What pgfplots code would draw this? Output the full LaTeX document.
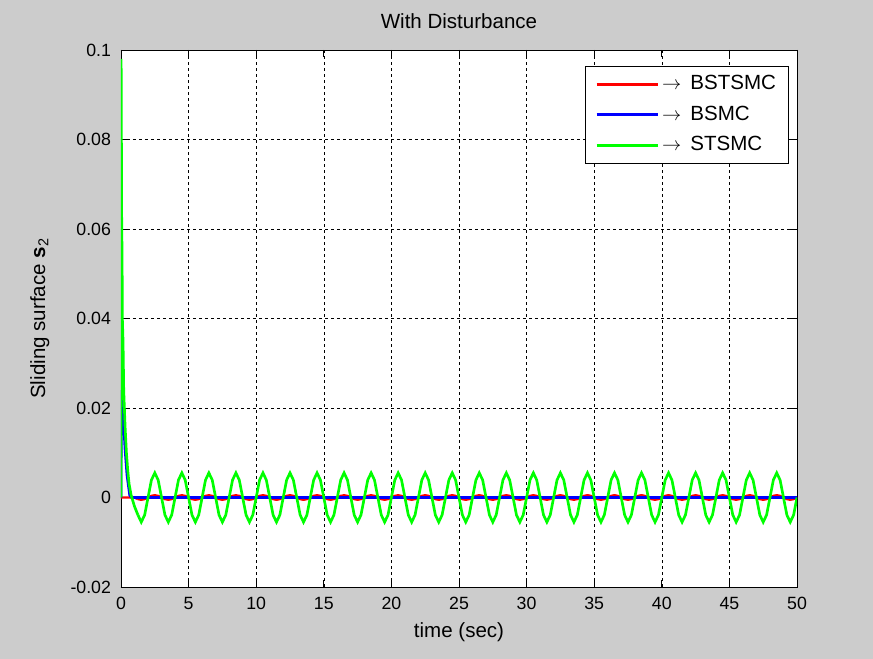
\documentclass[border=0pt]{standalone}
\usepackage{pgfplots}
\pgfplotsset{compat=1.18}
\usepackage{pgfplotstable}
\usepackage{fontspec}
\setmainfont{Liberation Sans}
\definecolor{figbg}{RGB}{204,204,204}
\definecolor{mred}{RGB}{255,0,0}
\definecolor{mblue}{RGB}{0,0,255}
\definecolor{mgreen}{RGB}{0,255,0}
\pgfplotstableread[row sep=\\]{
t r g\\
1.25 -0.00035 -0.0039\\ 1.5 -0.0005 -0.0055\\ 1.75 -0.00035 -0.0039\\
2 0 0\\ 2.25 0.00035 0.0039\\ 2.5 0.0005 0.0055\\ 2.75 0.00035 0.0039\\
3 0 0\\ 3.25 -0.00035 -0.0039\\ 3.5 -0.0005 -0.0055\\ 3.75 -0.00035 -0.0039\\
4 0 0\\ 4.25 0.00035 0.0039\\ 4.5 0.0005 0.0055\\ 4.75 0.00035 0.0039\\
5 0 0\\ 5.25 -0.00035 -0.0039\\ 5.5 -0.0005 -0.0055\\ 5.75 -0.00035 -0.0039\\
6 0 0\\ 6.25 0.00035 0.0039\\ 6.5 0.0005 0.0055\\ 6.75 0.00035 0.0039\\
7 0 0\\ 7.25 -0.00035 -0.0039\\ 7.5 -0.0005 -0.0055\\ 7.75 -0.00035 -0.0039\\
8 0 0\\ 8.25 0.00035 0.0039\\ 8.5 0.0005 0.0055\\ 8.75 0.00035 0.0039\\
9 0 0\\ 9.25 -0.00035 -0.0039\\ 9.5 -0.0005 -0.0055\\ 9.75 -0.00035 -0.0039\\
10 0 0\\ 10.25 0.00035 0.0039\\ 10.5 0.0005 0.0055\\ 10.75 0.00035 0.0039\\
11 0 0\\ 11.25 -0.00035 -0.0039\\ 11.5 -0.0005 -0.0055\\ 11.75 -0.00035 -0.0039\\
12 0 0\\ 12.25 0.00035 0.0039\\ 12.5 0.0005 0.0055\\ 12.75 0.00035 0.0039\\
13 0 0\\ 13.25 -0.00035 -0.0039\\ 13.5 -0.0005 -0.0055\\ 13.75 -0.00035 -0.0039\\
14 0 0\\ 14.25 0.00035 0.0039\\ 14.5 0.0005 0.0055\\ 14.75 0.00035 0.0039\\
15 0 0\\ 15.25 -0.00035 -0.0039\\ 15.5 -0.0005 -0.0055\\ 15.75 -0.00035 -0.0039\\
16 0 0\\ 16.25 0.00035 0.0039\\ 16.5 0.0005 0.0055\\ 16.75 0.00035 0.0039\\
17 0 0\\ 17.25 -0.00035 -0.0039\\ 17.5 -0.0005 -0.0055\\ 17.75 -0.00035 -0.0039\\
18 0 0\\ 18.25 0.00035 0.0039\\ 18.5 0.0005 0.0055\\ 18.75 0.00035 0.0039\\
19 0 0\\ 19.25 -0.00035 -0.0039\\ 19.5 -0.0005 -0.0055\\ 19.75 -0.00035 -0.0039\\
20 0 0\\ 20.25 0.00035 0.0039\\ 20.5 0.0005 0.0055\\ 20.75 0.00035 0.0039\\
21 0 0\\ 21.25 -0.00035 -0.0039\\ 21.5 -0.0005 -0.0055\\ 21.75 -0.00035 -0.0039\\
22 0 0\\ 22.25 0.00035 0.0039\\ 22.5 0.0005 0.0055\\ 22.75 0.00035 0.0039\\
23 0 0\\ 23.25 -0.00035 -0.0039\\ 23.5 -0.0005 -0.0055\\ 23.75 -0.00035 -0.0039\\
24 0 0\\ 24.25 0.00035 0.0039\\ 24.5 0.0005 0.0055\\ 24.75 0.00035 0.0039\\
25 0 0\\ 25.25 -0.00035 -0.0039\\ 25.5 -0.0005 -0.0055\\ 25.75 -0.00035 -0.0039\\
26 0 0\\ 26.25 0.00035 0.0039\\ 26.5 0.0005 0.0055\\ 26.75 0.00035 0.0039\\
27 0 0\\ 27.25 -0.00035 -0.0039\\ 27.5 -0.0005 -0.0055\\ 27.75 -0.00035 -0.0039\\
28 0 0\\ 28.25 0.00035 0.0039\\ 28.5 0.0005 0.0055\\ 28.75 0.00035 0.0039\\
29 0 0\\ 29.25 -0.00035 -0.0039\\ 29.5 -0.0005 -0.0055\\ 29.75 -0.00035 -0.0039\\
30 0 0\\ 30.25 0.00035 0.0039\\ 30.5 0.0005 0.0055\\ 30.75 0.00035 0.0039\\
31 0 0\\ 31.25 -0.00035 -0.0039\\ 31.5 -0.0005 -0.0055\\ 31.75 -0.00035 -0.0039\\
32 0 0\\ 32.25 0.00035 0.0039\\ 32.5 0.0005 0.0055\\ 32.75 0.00035 0.0039\\
33 0 0\\ 33.25 -0.00035 -0.0039\\ 33.5 -0.0005 -0.0055\\ 33.75 -0.00035 -0.0039\\
34 0 0\\ 34.25 0.00035 0.0039\\ 34.5 0.0005 0.0055\\ 34.75 0.00035 0.0039\\
35 0 0\\ 35.25 -0.00035 -0.0039\\ 35.5 -0.0005 -0.0055\\ 35.75 -0.00035 -0.0039\\
36 0 0\\ 36.25 0.00035 0.0039\\ 36.5 0.0005 0.0055\\ 36.75 0.00035 0.0039\\
37 0 0\\ 37.25 -0.00035 -0.0039\\ 37.5 -0.0005 -0.0055\\ 37.75 -0.00035 -0.0039\\
38 0 0\\ 38.25 0.00035 0.0039\\ 38.5 0.0005 0.0055\\ 38.75 0.00035 0.0039\\
39 0 0\\ 39.25 -0.00035 -0.0039\\ 39.5 -0.0005 -0.0055\\ 39.75 -0.00035 -0.0039\\
40 0 0\\ 40.25 0.00035 0.0039\\ 40.5 0.0005 0.0055\\ 40.75 0.00035 0.0039\\
41 0 0\\ 41.25 -0.00035 -0.0039\\ 41.5 -0.0005 -0.0055\\ 41.75 -0.00035 -0.0039\\
42 0 0\\ 42.25 0.00035 0.0039\\ 42.5 0.0005 0.0055\\ 42.75 0.00035 0.0039\\
43 0 0\\ 43.25 -0.00035 -0.0039\\ 43.5 -0.0005 -0.0055\\ 43.75 -0.00035 -0.0039\\
44 0 0\\ 44.25 0.00035 0.0039\\ 44.5 0.0005 0.0055\\ 44.75 0.00035 0.0039\\
45 0 0\\ 45.25 -0.00035 -0.0039\\ 45.5 -0.0005 -0.0055\\ 45.75 -0.00035 -0.0039\\
46 0 0\\ 46.25 0.00035 0.0039\\ 46.5 0.0005 0.0055\\ 46.75 0.00035 0.0039\\
47 0 0\\ 47.25 -0.00035 -0.0039\\ 47.5 -0.0005 -0.0055\\ 47.75 -0.00035 -0.0039\\
48 0 0\\ 48.25 0.00035 0.0039\\ 48.5 0.0005 0.0055\\ 48.75 0.00035 0.0039\\
49 0 0\\ 49.25 -0.00035 -0.0039\\ 49.5 -0.0005 -0.0055\\ 49.75 -0.00035 -0.0039\\
50 0 0\\
}\osc
\begin{document}
\begin{tikzpicture}
\fill[figbg] (-90.75pt,-54pt) rectangle (564pt,440.25pt);
\begin{axis}[
  at={(0pt,0pt)}, anchor=south west,
  scale only axis, width=507pt, height=402.75pt,
  xmin=0, xmax=50, ymin=-0.02, ymax=0.1,
  xtick={0,5,...,50},
  ytick={-0.02,0,0.02,0.04,0.06,0.08,0.1},
  yticklabels={-0.02,0,0.02,0.04,0.06,0.08,0.1},
  /pgf/number format/assume math mode=true,
  ticklabel style={font=\fontsize{13.3}{16}\selectfont},
  xticklabel style={yshift=-4pt},
  yticklabel style={xshift=-4pt},
  major tick length=5pt,
  tick style={black, line width=0.5pt},
  axis line style={black, line width=0.5pt},
  axis background/.style={fill=white},
  grid=major,
  major grid style={black, line width=0.45pt, dash pattern=on 2.5pt off 2pt},
  title={With Disturbance},
  title style={font=\fontsize{15.4}{18}\selectfont, at={(axis description cs:0.5,1)}, anchor=base, inner sep=0pt, yshift=9.8pt},
  xlabel={time (sec)},
  xlabel style={font=\fontsize{15.4}{18}\selectfont, at={(axis description cs:0.5,0)}, anchor=base, inner sep=0pt, yshift=-37.5pt},
  ylabel={Sliding surface \textbf{s}\textsubscript{2}},
  ylabel style={font=\fontsize{15.4}{18}\selectfont, at={(axis description cs:-0.1124,0.5)}, anchor=base, inner sep=0pt},
  legend style={at={(1,1)}, anchor=north east, xshift=-6pt, yshift=-11.8pt,
    font=\fontsize{15.4}{18}\selectfont, draw=black, line width=0.5pt, fill=white,
    inner xsep=7.5pt, inner ysep=4.5pt, row sep=5pt,
    nodes={text height=11pt, text depth=3pt, inner sep=2pt}},
  legend cell align=left,
  legend image code/.code={\draw[#1, line width=2.2pt] (0pt,0pt) -- (46pt,0pt);},
]
\addplot[mred, line width=1.8pt] coordinates {(0,0) (1,0) (1.25,-0.00035)};
\addlegendentry{$\rightarrow$\hspace{0.45em}BSTSMC}
\addplot[mred, line width=1.8pt, forget plot] table[x=t, y=r] {\osc};
\addplot[mblue, line width=2.1pt] coordinates {(0,0) (0.02,0.024) (0.15,0.02) (0.3,0.011) (0.45,0.005) (0.65,0.0005) (0.8,0) (50,0)};
\addlegendentry{$\rightarrow$\hspace{0.45em}BSMC}
\addplot[mgreen, line width=2pt] coordinates {(0,0) (0.01,0.098) (0.05,0.062) (0.08,0.054) (0.1,0.04) (0.15,0.035) (0.2,0.024) (0.3,0.016) (0.4,0.01) (0.5,0.006) (0.6,0.003) (0.75,0.0005) (1,-0.002) (1.25,-0.0039)};
\addlegendentry{$\rightarrow$\hspace{0.45em}STSMC}
\addplot[mgreen, line width=2pt, forget plot] table[x=t, y=g] {\osc};
\end{axis}
\end{tikzpicture}
\end{document}
